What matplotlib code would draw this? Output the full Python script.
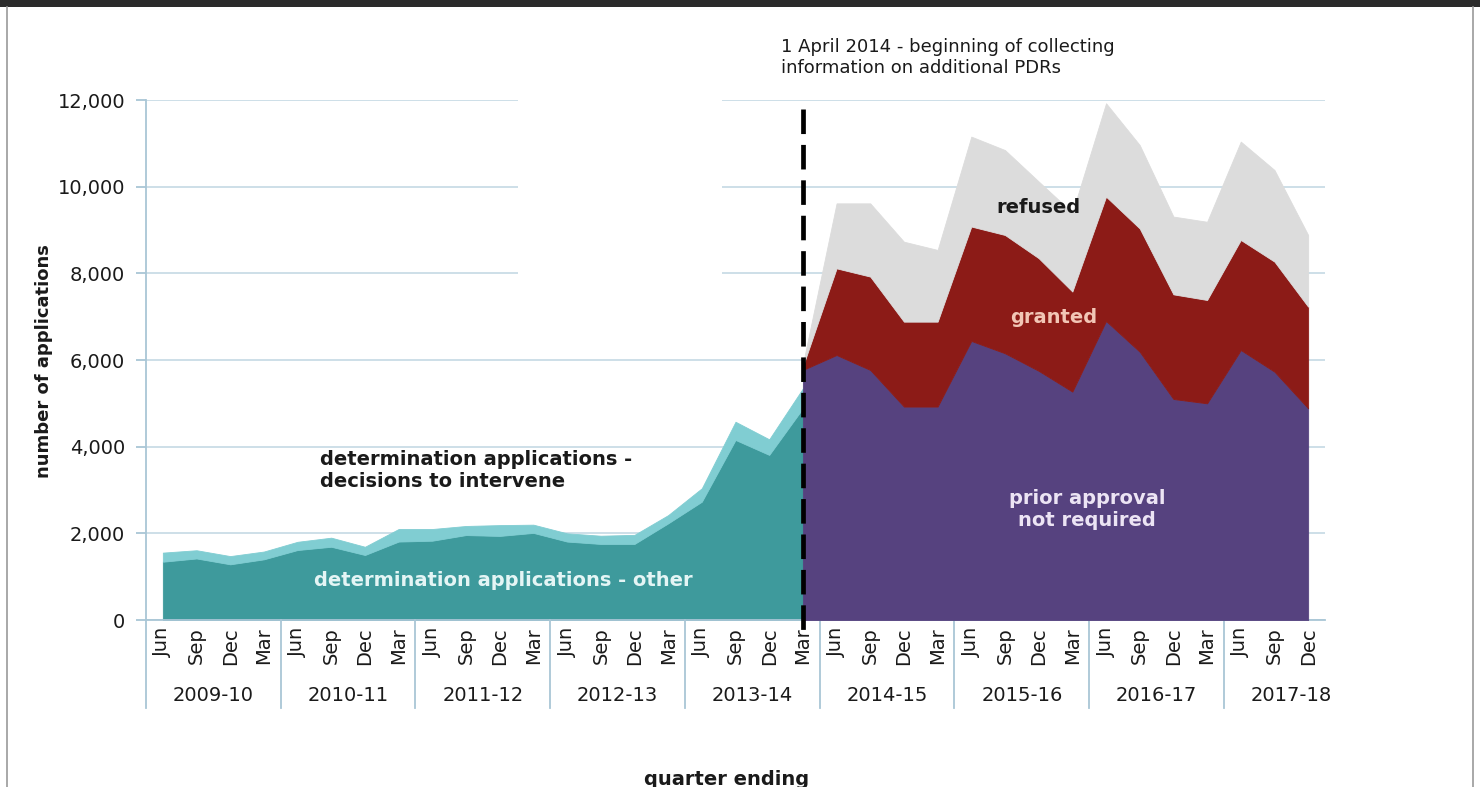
import matplotlib
matplotlib.use("Agg")
import matplotlib.pyplot as plt
import matplotlib.transforms as mtransforms
from matplotlib.patches import Rectangle
from matplotlib.lines import Line2D
import numpy as np

# ---------------- data ----------------
years = ["2009-10", "2010-11", "2011-12", "2012-13", "2013-14",
         "2014-15", "2015-16", "2016-17", "2017-18"]
months = ["Jun", "Sep", "Dec", "Mar"]
quarter_labels = [m for y in years for m in months][:35]   # up to Dec 2017

# determination applications (Jun 2009 .. Mar 2014)
det_other = [1345, 1420, 1285, 1400, 1615, 1690, 1500, 1810, 1830, 1960,
             1940, 2010, 1810, 1755, 1755, 2230, 2730, 4155, 3810, 4885]
det_intervene = [210, 190, 190, 180, 190, 210, 190, 290, 270, 210,
                 250, 190, 190, 190, 210, 190, 310, 420, 360, 460]

# prior approval applications (Mar 2014 .. Dec 2017)
pdr_start = 19  # index of quarter ending Mar 2014
pa_not_required = [5770, 6115, 5770, 4925, 4925, 6440, 6155, 5750, 5270, 6900,
                   6190, 5100, 5000, 6230, 5730, 4885]
pa_granted = [80, 2000, 2155, 1960, 1960, 2640, 2730, 2600, 2310, 2870,
              2845, 2415, 2385, 2540, 2540, 2345]
pa_refused = [50, 1500, 1690, 1845, 1655, 2075, 1960, 1770, 1820, 2155,
              1925, 1795, 1805, 2270, 2115, 1655]

# ---------------- style ----------------
C_TEAL = "#3e9a9c"
C_TEAL_L = "#80cdd2"
C_PURPLE = "#56427f"
C_RED = "#8c1b17"
C_GREY = "#dcdcdc"
C_AXIS = "#a9c6d6"
C_GRID = "#c9dce6"
TXT = "#1a1a1a"

W, H = 1480, 787
fig = plt.figure(figsize=(W / 100, H / 100), dpi=100)
fig.patch.set_facecolor("white")

ax = fig.add_axes([146 / W, 1 - 620 / H, (1325 - 146) / W, 520 / H])
n = len(quarter_labels)
ax.set_xlim(-0.5, n - 0.5)
ax.set_ylim(0, 12000)

x_det = np.arange(len(det_other))
x_pdr = np.arange(pdr_start, pdr_start + len(pa_not_required))

polys = ax.stackplot(x_det, det_other, det_intervene,
                     colors=[C_TEAL, C_TEAL_L], zorder=2)
polys += ax.stackplot(x_pdr, pa_not_required, pa_granted, pa_refused,
                      colors=[C_PURPLE, C_RED, C_GREY], zorder=3)
for p in polys:
    p.set_edgecolor(p.get_facecolor())
    p.set_linewidth(0.6)

# grid & axes
ax.set_axisbelow(True)
ax.yaxis.grid(True, color=C_GRID, lw=1.3)
ax.add_patch(Rectangle((10.55, 7000), 6.05, 5200, facecolor="white",
                       edgecolor="none", zorder=0.8, clip_on=False))
for s in ["top", "right"]:
    ax.spines[s].set_visible(False)
for s in ["left", "bottom"]:
    ax.spines[s].set_color(C_AXIS)
    ax.spines[s].set_linewidth(1.3)

ax.set_yticks(range(0, 12001, 2000))
ax.set_yticklabels([f"{v:,}" for v in range(0, 12001, 2000)])
ax.tick_params(axis="y", direction="out", length=7, width=1.3, color=C_AXIS,
               labelsize=14, labelcolor=TXT, pad=8)
ax.set_xticks(np.arange(n))
ax.set_xticklabels(quarter_labels, rotation=90, va="top", ha="center")
ax.tick_params(axis="x", length=0, labelsize=14, labelcolor=TXT, pad=5)

trans = mtransforms.blended_transform_factory(ax.transData, ax.transAxes)
for k in range(len(years)):
    b = -0.5 + 4 * k
    ax.plot([b, b], [0, -0.17], transform=trans, clip_on=False,
            color=C_AXIS, lw=1.3)
    ax.text(4 * k + 1.5, -0.146, years[k], transform=trans, ha="center",
            va="center", fontsize=14, color=TXT)

# dashed marker line
ax.plot([pdr_start, pdr_start], [11800, -350], color="black", lw=3.4,
        dashes=(5.2, 2.3), clip_on=False, zorder=6)

# annotations
ax.text(18.35, 13420, "1 April 2014 - beginning of collecting\ninformation on additional PDRs",
        ha="left", va="top", fontsize=13, color=TXT, linespacing=1.15)
ax.text(4.66, 3440, "determination applications -\ndecisions to intervene",
        ha="left", va="center", fontsize=14, fontweight="bold", color=TXT,
        linespacing=1.2, zorder=7)
ax.text(10.12, 920, "determination applications - other", ha="center",
        va="center", fontsize=14, fontweight="bold", color="#e4f5f5", zorder=7)
ax.text(26.0, 9510, "refused", ha="center", va="center", fontsize=14,
        fontweight="bold", color=TXT, zorder=7)
ax.text(26.45, 6990, "granted", ha="center", va="center", fontsize=14,
        fontweight="bold", color="#f2c6b6", zorder=7)
ax.text(27.44, 2560, "prior approval\nnot required", ha="center", va="center",
        fontsize=14, fontweight="bold", color="#ece4f4", linespacing=1.2,
        zorder=7)

fig.text(43.6 / W, 1 - 361 / H, "number of applications", rotation=90,
         ha="center", va="center", fontsize=13, fontweight="bold", color=TXT)
fig.text(727 / W, 1 - 785 / H, "quarter ending", ha="center", va="baseline",
         fontsize=14, fontweight="bold", color=TXT)

# screenshot frame
fig.patches.append(Rectangle((0, 1 - 7 / H), 1, 7 / H, transform=fig.transFigure,
                             facecolor="#2b2b2b", edgecolor="none"))
for xx in (7 / W, 1473 / W):
    fig.lines.append(Line2D([xx, xx], [0, 1 - 7 / H], transform=fig.transFigure,
                            color="#9a9a9a", lw=1.2))

fig.savefig("out.png", dpi=100)
